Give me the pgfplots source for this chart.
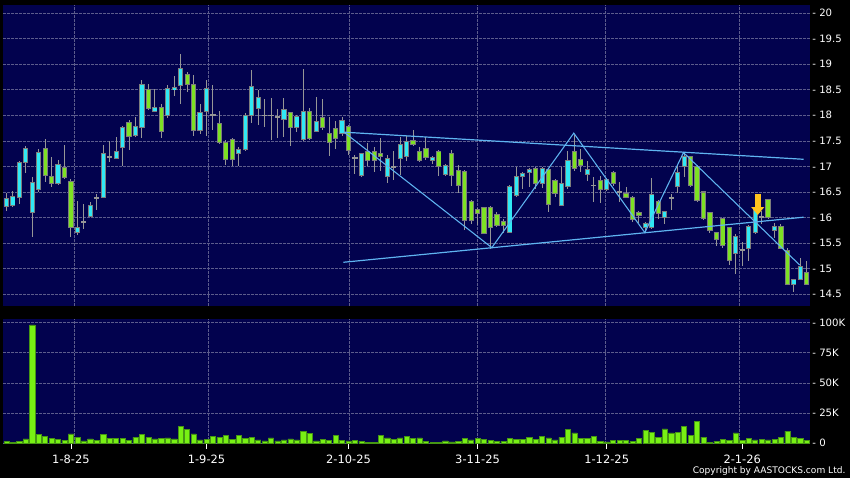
\documentclass[border=0pt]{standalone}
\usepackage{pgfplots}
\pgfplotsset{compat=1.18}
\usepackage{pgfplotstable}
\usepackage{fontspec}
\setmainfont{DejaVu Sans}
\usetikzlibrary{arrows.meta}

\definecolor{navy}{RGB}{2,2,78}
\definecolor{gridc}{RGB}{92,92,140}
\definecolor{upc}{RGB}{48,232,245}
\definecolor{dnc}{RGB}{125,225,35}
\definecolor{edgec}{RGB}{125,125,125}
\definecolor{wickc}{RGB}{150,150,150}
\definecolor{dojic}{RGB}{150,150,150}
\definecolor{volc}{RGB}{120,240,20}
\definecolor{voledge}{RGB}{70,150,20}
\definecolor{trendc}{RGB}{95,180,240}
\definecolor{arrowc}{RGB}{255,195,30}

\pgfplotstableread{
i o h l c
0 16.22 16.48 16.13 16.37
1 16.24 16.51 16.20 16.41
2 16.39 17.10 16.26 17.07
3 17.07 17.40 16.88 17.35
4 16.10 16.79 15.62 16.68
5 16.55 17.35 16.50 17.28
8 16.66 17.13 16.63 17.03
11 15.70 16.32 15.65 15.80
13 16.03 16.30 16.01 16.23
15 16.39 17.41 16.38 17.26
17 17.15 17.58 17.14 17.30
18 17.37 17.80 17.01 17.76
20 17.60 17.97 17.58 17.78
21 17.77 18.70 17.56 18.60
23 18.08 18.52 18.07 18.15
25 17.99 18.59 17.95 18.53
26 18.50 18.76 18.37 18.54
27 18.59 19.19 18.22 18.91
30 17.71 18.23 17.63 18.05
31 18.07 18.70 17.59 18.52
36 17.25 17.39 17.01 17.33
37 17.33 18.05 17.30 17.99
38 18.00 18.88 17.85 18.57
39 18.13 18.49 17.82 18.35
43 17.92 18.33 17.58 18.11
45 17.76 18.00 17.67 17.97
46 17.52 18.90 17.50 18.07
48 17.69 18.36 17.67 17.87
52 17.65 17.97 17.60 17.89
55 16.82 17.26 16.79 17.25
59 16.81 17.23 16.68 17.16
61 17.15 17.58 16.83 17.42
62 17.19 17.60 17.10 17.49
66 17.12 17.20 17.05 17.17
68 16.85 17.05 16.82 17.01
78 15.71 16.64 15.70 16.61
79 16.44 16.99 16.40 16.81
80 16.81 16.90 16.55 16.87
81 16.89 16.96 16.60 16.94
83 16.67 16.98 16.58 16.96
86 16.23 16.98 16.22 16.67
87 16.60 17.30 16.56 17.11
90 16.84 17.10 16.72 16.94
93 16.55 16.78 16.52 16.75
99 15.80 15.92 15.70 15.88
100 15.80 16.78 15.78 16.45
102 16.00 16.13 15.88 16.11
104 16.60 17.02 16.48 16.88
105 17.00 17.28 16.80 17.19
113 15.30 15.68 14.90 15.63
115 15.39 15.86 15.15 15.82
116 15.70 16.20 15.68 16.17
119 15.74 15.90 15.60 15.83
122 14.70 14.80 14.55 14.78
123 14.79 15.20 14.78 15.05
}\upt

\pgfplotstableread{
i o h l c
6 17.35 17.54 16.70 16.83
7 16.81 17.18 16.60 16.66
9 16.98 17.41 16.76 16.79
10 16.71 16.75 15.62 15.81
19 17.85 17.90 17.33 17.58
22 18.50 18.61 18.10 18.13
24 18.15 18.23 17.56 17.69
28 18.80 18.85 18.46 18.60
29 18.60 18.78 17.59 17.71
33 17.84 18.08 17.43 17.46
34 17.46 17.52 17.02 17.13
35 17.52 17.55 17.01 17.13
44 18.05 18.07 17.40 17.76
47 18.07 18.15 17.51 17.54
49 17.95 18.31 17.71 17.76
50 17.65 17.97 17.20 17.46
51 17.74 17.89 17.35 17.54
53 17.79 17.82 17.22 17.31
56 17.30 17.45 17.00 17.12
57 17.30 17.38 16.89 17.12
58 17.25 17.55 16.92 17.20
63 17.51 17.71 17.40 17.42
64 17.30 17.38 17.08 17.12
65 17.36 17.58 17.12 17.17
67 17.30 17.33 16.82 16.99
69 17.25 17.32 16.62 16.82
70 16.93 17.02 16.48 16.63
71 16.91 16.93 15.76 15.94
72 16.31 16.34 15.88 15.95
73 16.16 16.18 15.86 16.08
74 16.19 16.20 15.67 15.69
75 16.20 16.22 15.39 15.80
76 16.06 16.10 15.82 15.85
77 15.92 15.98 15.70 15.84
82 16.96 16.98 16.55 16.67
84 16.94 16.96 16.10 16.26
85 16.73 16.76 16.40 16.47
88 17.30 17.62 16.92 16.96
89 17.14 17.35 16.90 17.02
92 16.73 16.81 16.28 16.55
94 16.89 16.92 16.62 16.66
96 16.48 16.60 16.38 16.39
97 16.40 16.42 15.92 15.96
98 16.09 16.12 15.90 16.05
101 16.31 16.35 15.98 16.08
106 17.19 17.20 16.60 16.63
107 16.99 17.02 16.30 16.34
108 16.50 16.52 15.95 15.98
109 16.09 16.10 15.70 15.74
110 15.70 15.72 15.45 15.57
111 15.98 16.00 15.40 15.46
112 15.80 15.82 15.08 15.17
118 16.35 16.36 15.98 16.01
120 15.83 15.88 15.38 15.39
121 15.36 15.40 14.68 14.70
124 14.92 15.15 14.68 14.70
}\dnt

\pgfplotstableread{
i o h l c
12 15.91 16.27 15.78 15.91
14 16.38 16.47 16.14 16.38
16 17.18 17.50 17.09 17.18
32 18.01 18.59 17.71 18.01
40 18.00 18.31 17.78 18.00
41 18.00 18.33 17.51 18.00
42 17.97 18.12 17.55 17.97
54 17.16 17.23 16.85 17.16
60 16.99 17.31 16.73 16.99
91 16.63 16.80 16.30 16.63
95 16.50 16.70 16.30 16.50
103 16.38 16.46 16.15 16.38
114 15.37 15.52 15.05 15.37
117 16.02 16.12 15.88 16.02
}\djt

\pgfplotstableread{
i v
0 1.4
1 0.5
2 1.4
3 3.6
4 98
5 7.5
6 6
7 4
8 3.3
9 2.5
10 7.7
11 5
12 2
13 3.6
14 2.5
15 7.2
16 3.9
17 3.9
18 3.9
19 2.5
20 5
21 7.5
22 4.7
23 3.6
24 3.9
25 4.4
26 3.6
27 14
28 11.6
29 7.7
30 2.8
31 3
32 6
33 5
34 6.4
35 3
36 6.6
37 3.9
38 5.2
39 2.8
40 2
41 4.4
42 2
43 2.8
44 3.6
45 2.8
46 10
47 8.3
48 2
49 3.3
50 2.5
51 6.4
52 2.2
53 2
54 2.2
55 1.7
56 0.8
57 0.8
58 6.4
59 4.4
60 3
61 4.4
62 5.5
63 3.9
64 4.4
65 1.5
66 0.6
67 0.6
68 2
69 1.1
70 1.7
71 4.1
72 2.8
73 4.1
74 3
75 2.2
76 1.4
77 1.7
78 3.9
79 3.3
80 3
81 4.7
82 3.3
83 6
84 4.4
85 2.8
86 5
87 11.6
88 8.6
89 3.9
90 4.1
91 5.8
92 1.7
93 1.1
94 2.5
95 2.5
96 2.5
97 1.7
98 4.1
99 10.5
100 9.1
101 5.2
102 11.9
103 8.6
104 9.1
105 14
106 6.4
107 18.2
108 5.2
109 0.8
110 1.7
111 3
112 2.2
113 8.6
114 2.2
115 4.1
116 2.8
117 3.3
118 2.8
119 3
120 4.7
121 10
122 5
123 3.9
124 2.2
}\volt

\pgfplotsset{
  candleerr/.style={mark=none, draw=none, forget plot,
    /pgfplots/error bars/y dir=both,
    /pgfplots/error bars/y explicit,
    /pgfplots/error bars/error mark=none,
    /pgfplots/error bars/error bar style={solid, line cap=butt, #1}},
  chartaxis/.style={
    scale only axis, anchor=south west,
    width=605pt,
    xmin=-0.48, xmax=124.5,
    axis background/.style={fill=navy},
    axis line style={draw=none},
    major tick length=0pt,
    grid=major,
    grid style={gridc, dash pattern=on 1.9pt off 1.1pt, line width=0.5pt},
    xtick={10.47,31.28,53.12,72.95,92.73,113.54},
    xticklabels={},
    xtick pos=bottom,
    ytick pos=right,
    yticklabel pos=right,
    yticklabel style={font=\fontsize{7.6}{9}\selectfont, text=white, anchor=west, inner sep=0pt, xshift=1.6pt},
    /pgf/number format/assume math mode=true,
    clip=true,
  },
}

\begin{document}
\begin{tikzpicture}
\fill[black] (0pt,0pt) rectangle (637.5pt,358.5pt);

% ---------- price panel ----------
\begin{axis}[chartaxis,
  at={(2.5pt,129pt)}, height=225.75pt,
  ymin=14.271, ymax=20.157,
  ytick={14.5,15,15.5,16,16.5,17,17.5,18,18.5,19,19.5,20},
  yticklabels={- 14.5,- 15,- 15.5,- 16,- 16.5,- 17,- 17.5,- 18,- 18.5,- 19,- 19.5,- 20},
]
% wicks
\addplot[candleerr={line width=0.75pt, draw=wickc}] table[x=i, y expr={(\thisrow{h}+\thisrow{l})/2}, y error expr={(\thisrow{h}-\thisrow{l})/2}] {\upt};
\addplot[candleerr={line width=0.75pt, draw=wickc}] table[x=i, y expr={(\thisrow{h}+\thisrow{l})/2}, y error expr={(\thisrow{h}-\thisrow{l})/2}] {\dnt};
\addplot[candleerr={line width=0.75pt, draw=wickc}] table[x=i, y expr={(\thisrow{h}+\thisrow{l})/2}, y error expr={(\thisrow{h}-\thisrow{l})/2}] {\djt};
% body outlines
\addplot[candleerr={line width=3.9pt, draw=edgec}] table[x=i, y expr={(\thisrow{o}+\thisrow{c})/2}, y error expr={abs(\thisrow{c}-\thisrow{o})/2+0.01}] {\upt};
\addplot[candleerr={line width=3.9pt, draw=edgec}] table[x=i, y expr={(\thisrow{o}+\thisrow{c})/2}, y error expr={abs(\thisrow{c}-\thisrow{o})/2+0.01}] {\dnt};
% body fills
\addplot[candleerr={line width=2.45pt, draw=upc}] table[x=i, y expr={(\thisrow{o}+\thisrow{c})/2}, y error expr={max(abs(\thisrow{c}-\thisrow{o})/2-0.01,0.004)}] {\upt};
\addplot[candleerr={line width=2.45pt, draw=dnc}] table[x=i, y expr={(\thisrow{o}+\thisrow{c})/2}, y error expr={max(abs(\thisrow{c}-\thisrow{o})/2-0.01,0.004)}] {\dnt};
% doji bars
\addplot[candleerr={line width=3.9pt, draw=dojic}] table[x=i, y expr={(\thisrow{o}+\thisrow{c})/2}, y error expr={0.015}] {\djt};
% trend lines
\addplot[trendc, line width=0.9pt, forget plot] coordinates {(52.3,17.67) (123.5,17.14)};
\addplot[trendc, line width=0.9pt, forget plot] coordinates {(52.2,15.126) (123.5,16.007)};
\addplot[trendc, line width=0.8pt, forget plot] coordinates {(52.3,17.67) (75.2,15.412) (87.9,17.651) (98.9,15.706) (104.9,17.271) (122.9,15.073)};
% signal arrow
\addplot[arrowc, line width=4.5pt, forget plot, -{Triangle[width=9.5pt,length=6pt]}] coordinates {(116.4,16.47) (116.4,16.05)};
\end{axis}

% ---------- volume panel ----------
\begin{axis}[chartaxis,
  at={(2.5pt,25.5pt)}, height=93.75pt,
  ymin=-0.58, ymax=102.8,
  ytick={0,25,50,75,100},
  yticklabels={- 0,- 25K,- 50K,- 75K,- 100K},
  extra x ticks={10,31,53,73,93,114},
  extra x tick labels={1-8-25,1-9-25,2-10-25,3-11-25,1-12-25,2-1-26},
  extra x tick style={xmajorgrids=false, major tick length=3.75pt, tick align=outside,
     tick style={white, line width=0.6pt},
     xticklabel style={font=\fontsize{8.6}{10}\selectfont, text=white, anchor=north, inner sep=0pt, yshift=-4.2pt}},
]
\addplot[ybar, bar width=3.9pt, fill=volc, draw=voledge, line width=0.4pt] table[x=i, y=v] {\volt};
\end{axis}

\node[anchor=east, inner sep=0pt, text=white, font=\fontsize{6.8}{8}\selectfont] at (634.3pt,5.0pt) {Copyright by AASTOCKS.com Ltd.};

\pgfresetboundingbox
\useasboundingbox (0pt,0pt) rectangle (637.5pt,358.5pt);
\end{tikzpicture}
\end{document}
